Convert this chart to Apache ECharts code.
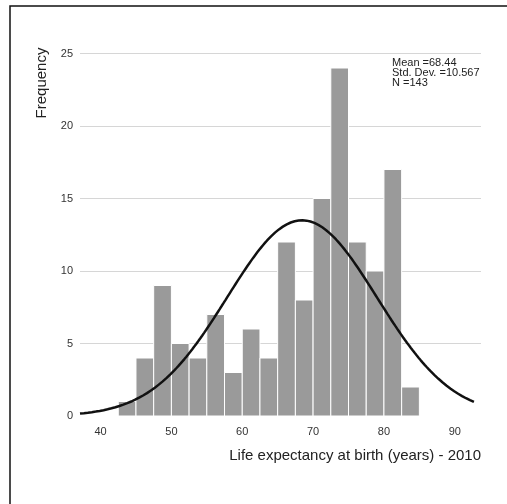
<!DOCTYPE html>
<html>
<head>
<meta charset="utf-8">
<script src="https://cdn.jsdelivr.net/npm/echarts@6/dist/echarts.min.js"></script>
<style>
html,body{margin:0;padding:0;background:#fff;}
#chart{width:507px;height:504px;}
</style>
</head>
<body>
<div id="chart"></div>
<script>
// Histogram bins (lower edges, years) and frequencies
var binStarts = [42.5, 45, 47.5, 50, 52.5, 55, 57.5, 60, 62.5, 65, 67.5, 70, 72.5, 75, 77.5, 80, 82.5];
var counts    = [1,    4,  9,    5,  4,    7,  3,    6,  4,    12, 8,    15, 24,   12, 10,   17, 2];
var binWidth = 2.5;
// Summary statistics shown on the chart
var mean = 68.44;
var stdDev = 10.567;
var nObs = 143;
// Axis ticks
var xTicks = [40, 50, 60, 70, 80, 90];
var yTicks = [0, 5, 10, 15, 20, 25];
var xRange = [37.1, 93.7];
var curveRange = [37.1, 92.7];

// Fitted normal curve, scaled to frequency per bin
var curve = [];
var steps = 200;
for (var i = 0; i <= steps; i++) {
  var x = curveRange[0] + (curveRange[1] - curveRange[0]) * i / steps;
  var z = (x - mean) / stdDev;
  var y = nObs * binWidth / (stdDev * Math.sqrt(2 * Math.PI)) * Math.exp(-0.5 * z * z);
  curve.push([x, y]);
}

var barData = binStarts.map(function (s, i) { return [s, s + binWidth, counts[i]]; });

var chart = echarts.init(document.getElementById('chart'), null, {renderer: 'canvas'});
var font = 'Liberation Sans, Arial, Helvetica, sans-serif';
chart.setOption({
  animation: false,
  backgroundColor: '#ffffff',
  grid: {left: 80, right: 26, top: 53.5, bottom: 88, containLabel: false},
  xAxis: {
    type: 'value',
    min: xRange[0],
    max: xRange[1],
    splitLine: {show: false},
    axisLine: {show: false},
    axisTick: {show: false},
    axisLabel: {
      customValues: xTicks,
      color: '#333',
      fontFamily: font,
      fontSize: 11,
      margin: 10
    },
    name: 'Life expectancy at birth (years) - 2010',
    nameLocation: 'end',
    nameGap: 0,
    nameTextStyle: {
      align: 'right',
      verticalAlign: 'top',
      color: '#222',
      fontFamily: font,
      fontSize: 15,
      padding: [32, 0, 0, 0]
    }
  },
  yAxis: {
    type: 'value',
    min: yTicks[0],
    max: yTicks[yTicks.length - 1],
    interval: 5,
    axisLine: {show: false},
    axisTick: {show: false},
    axisLabel: {color: '#333', fontFamily: font, fontSize: 11, margin: 7},
    splitLine: {
      show: true,
      lineStyle: {color: '#d6d6d6', width: 1},
      showMinLine: false
    }
  },
  graphic: [
    {
      type: 'rect',
      shape: {x: 10, y: 6, width: 540, height: 540},
      style: {fill: null, stroke: '#111', lineWidth: 1.5},
      z: 100
    },
    {
      type: 'text',
      x: 42, y: 83,
      rotation: Math.PI / 2,
      style: {
        text: 'Frequency',
        fill: '#222',
        font: '15px ' + font,
        textAlign: 'center',
        textVerticalAlign: 'middle'
      }
    },
    {
      type: 'text',
      x: 392, y: 57.5,
      style: {
        text: 'Mean =' + mean.toFixed(2) + '\nStd. Dev. =' + stdDev.toFixed(3) + '\nN =' + nObs,
        fill: '#222',
        font: '11px ' + font,
        lineHeight: 10,
        textAlign: 'left',
        textVerticalAlign: 'top'
      }
    }
  ],
  series: [
    {
      type: 'custom',
      data: barData,
      encode: {x: [0, 1], y: 2},
      renderItem: function (params, api) {
        var p0 = api.coord([api.value(0), 0]);
        var p1 = api.coord([api.value(1), api.value(2)]);
        return {
          type: 'rect',
          shape: {x: p0[0], y: p1[1], width: p1[0] - p0[0], height: p0[1] - p1[1]},
          style: {fill: '#9a9a9a', stroke: '#ffffff', lineWidth: 1}
        };
      },
      z: 2
    },
    {
      type: 'line',
      data: curve,
      showSymbol: false,
      symbol: 'none',
      smooth: false,
      lineStyle: {color: '#111', width: 2.5},
      z: 3
    }
  ]
});
</script>
</body>
</html>
